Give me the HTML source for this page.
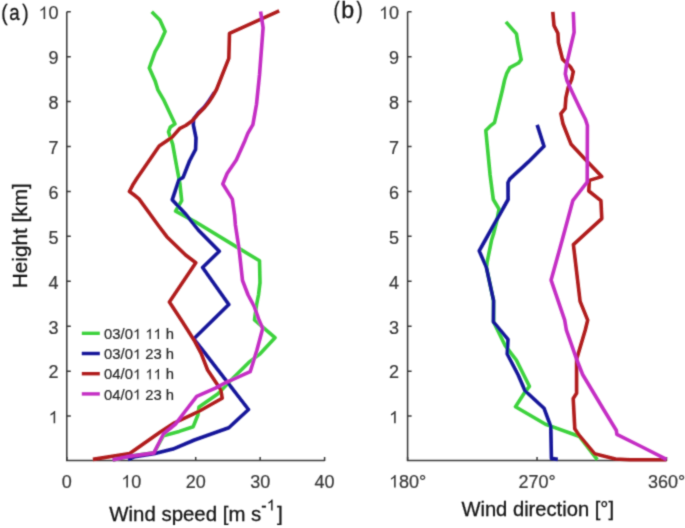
<!DOCTYPE html>
<html><head><meta charset="utf-8"><style>
html,body{margin:0;padding:0;background:#fff;}
body{width:685px;height:528px;overflow:hidden;}
svg{display:block;font-family:"Liberation Sans",sans-serif;}
#w{width:685px;height:528px;}
</style></head><body>
<div id="w"><svg width="685" height="528" viewBox="0 0 685 528">
<defs><filter id="bl" x="-5%" y="-5%" width="110%" height="110%"><feConvolveMatrix order="3" kernelMatrix="0.02768 0.11101 0.02768 0.11101 0.44521 0.11101 0.02768 0.11101 0.02768" divisor="1" edgeMode="none" preserveAlpha="false"/></filter></defs>
<g filter="url(#bl)">
<path d="M66.8 11.7 V460.6 H324.6" fill="none" stroke="#383838" stroke-width="1.5"/>
<path d="M407.6 11.7 V460.6 H666.5" fill="none" stroke="#383838" stroke-width="1.5"/>
<path d="M66.8 416.07 h4 M407.6 416.07 h4 M66.8 371.14 h4 M407.6 371.14 h4 M66.8 326.21 h4 M407.6 326.21 h4 M66.8 281.28 h4 M407.6 281.28 h4 M66.8 236.35 h4 M407.6 236.35 h4 M66.8 191.42 h4 M407.6 191.42 h4 M66.8 146.49 h4 M407.6 146.49 h4 M66.8 101.56 h4 M407.6 101.56 h4 M66.8 56.63 h4 M407.6 56.63 h4 M66.8 11.70 h4 M407.6 11.70 h4 M66.80 461.0 v-4 M131.25 461.0 v-4 M195.70 461.0 v-4 M260.15 461.0 v-4 M324.60 461.0 v-4 M407.60 461.0 v-4 M537.05 461.0 v-4 M666.50 461.0 v-4" fill="none" stroke="#383838" stroke-width="1.5"/>
<polyline points="151.7,11.7 159.9,19.9 165.1,31.5 159.3,44.4 155.1,51.7 149.3,68 155.1,80.9 158,90.2 163.4,99.3 175,123.9 170.2,127.3 168.5,131.9 172.7,144.4 176.4,165 179.9,183.6 181.7,200.6 175.6,211.2 195.3,221.8 239,248.4 259.5,260.8 260,282.7 258.5,295 256.6,304.5 254.5,320 265.1,329.1 275,337.7 259.4,354.4 248.8,362.4 232.9,378.3 217.7,394 199,406.9 197.9,415 193.2,426.7 179.2,431.4 164.4,435.4 163.4,435.6 153.9,452.9 131,456.1 113,460" fill="none" stroke="#3cd23c" stroke-width="3.6" stroke-linejoin="round" stroke-linecap="butt"/>
<polyline points="214.4,92.5 211.5,97 207.7,102.7 203.9,107.5 198.2,113.1 193.6,119 193.3,124.6 196,137.8 195.6,149.3 189.5,161 183.1,177.4 179,179.7 172.2,199.8 186,214.5 198.3,230 219.3,251.3 202.6,267.5 228.8,304.5 193.8,338.8 204,351.9 248.5,409.5 228.8,427.8 194.4,440 172.9,449.1 153.9,453.8 135,456.7 128,459.5" fill="none" stroke="#14149a" stroke-width="3.6" stroke-linejoin="round" stroke-linecap="butt"/>
<polyline points="279.2,10.9 229.5,33.3 228.8,58.4 222.2,75 216.5,89.5 212.2,97 208.4,102.7 204.6,107.5 198.9,113.1 192.3,120.7 185.7,125.5 180,128.3 171.7,137.6 159.2,145.9 137,178.3 132.6,185.3 129.4,191.5 133.6,194.5 139,198.9 158,225 166.8,236.7 185.6,255 195.8,262.7 169.4,301.9 182.2,321.5 194.1,340.2 201.1,353.4 207.6,370 220.8,389.8 222.2,398.2 199,411.3 173.4,423.4 160.3,432 129.7,453.5 92.9,459.4" fill="none" stroke="#b01c1e" stroke-width="3.6" stroke-linejoin="round" stroke-linecap="butt"/>
<polyline points="260.6,11.4 263.1,27.7 259.5,75 256.5,104.2 252.9,124.6 247.8,133.4 244.9,140.7 236.3,159.9 227.1,173.5 222.8,184 232.3,199.1 234.6,215 235.4,225 239,248.4 242.5,280.5 248.1,295 254.2,306.4 258.5,318.7 262.7,328.5 256.8,350.5 250.2,371.7 226.3,382.3 215.4,388.2 196.7,396.4 185,411.5 175.5,424.2 163.4,434.2 153.9,452.9 131,456.1 112.6,460" fill="none" stroke="#c42dc4" stroke-width="3.6" stroke-linejoin="round" stroke-linecap="butt"/>
<polyline points="505.9,21.9 511.2,27.9 516.5,33.9 517.9,43.2 521.2,59.7 518.5,63 509.9,67.7 506.6,73.7 504.6,80 502.4,90 494.5,122.7 490.1,126.2 485.8,130.5 490.1,175 493.3,199.5 499,209 497,220 493.5,234 491.6,240 487,262.7 486.5,267.5 493.5,300.7 493.6,321.9 505,345.3 516.3,360 529.4,386.3 525,392.1 515.5,406.7 545.5,424.2 577.5,435.8 579.6,436.6 597.3,459.6" fill="none" stroke="#3cd23c" stroke-width="3.6" stroke-linejoin="round" stroke-linecap="butt"/>
<polyline points="537.2,124.9 544,146.3 528.4,161.9 509.9,178.9 508,182.5 508.1,199.5 485.3,240 479.2,250.9 486.3,267.1 493.6,300.7 493.4,321.9 508,339.4 507.2,354 518.2,375 525,390.7 544,408.2 550.8,426.6 551.4,458.4 557.8,459.4" fill="none" stroke="#14149a" stroke-width="3.6" stroke-linejoin="round" stroke-linecap="butt"/>
<polyline points="552.8,11.9 554,25.6 557.9,33.2 558.4,42.6 562.5,59.1 570.5,67 573.3,71.6 571.6,79.5 568.2,87.5 565.9,97.7 565.1,108.5 560.9,113.6 562.9,123.5 571.1,144.3 585.6,159.7 601.7,176.6 589.3,180.4 588.8,191 600.9,200.7 601.8,218.6 573.4,244.6 580.1,301.4 587.7,320.1 585.2,330.2 576.6,359.2 576.6,393.3 573.2,398.4 574.8,428.8 578.8,434.9 594.5,453.7 615.5,459 630,459.8 666.5,459.8" fill="none" stroke="#b01c1e" stroke-width="3.6" stroke-linejoin="round" stroke-linecap="butt"/>
<polyline points="573.3,11.9 574.1,32.4 569.9,50 566.5,64.8 565.3,73.9 567,80.7 572.7,93.2 580.7,110 585.5,119.5 587.4,125.5 587.2,182 572.8,200.7 562.2,240 551.1,280.1 564.7,320.1 566.4,330.2 576.6,359.2 582.6,374.5 603.9,410 616.4,430.5 616.8,434.4 642.2,447 666.5,459.3" fill="none" stroke="#c42dc4" stroke-width="3.6" stroke-linejoin="round" stroke-linecap="butt"/>
<g stroke="#383838" stroke-width="0.22"><path d="M763 0H583V1102Q518 1043 412 983T223 894V1061Q373 1129 485 1226T645 1409H763Z" fill="#383838" transform="translate(48.49,423.37) scale(0.00879,-0.00879)"/><path d="M763 0H583V1102Q518 1043 412 983T223 894V1061Q373 1129 485 1226T645 1409H763Z" fill="#383838" transform="translate(388.99,423.37) scale(0.00879,-0.00879)"/><text x="48.49" y="378.44" font-size="18" fill="#383838"  xml:space="preserve">2</text><text x="388.99" y="378.44" font-size="18" fill="#383838"  xml:space="preserve">2</text><text x="48.49" y="333.51" font-size="18" fill="#383838"  xml:space="preserve">3</text><text x="388.99" y="333.51" font-size="18" fill="#383838"  xml:space="preserve">3</text><text x="48.49" y="288.58" font-size="18" fill="#383838"  xml:space="preserve">4</text><text x="388.99" y="288.58" font-size="18" fill="#383838"  xml:space="preserve">4</text><text x="48.49" y="243.65" font-size="18" fill="#383838"  xml:space="preserve">5</text><text x="388.99" y="243.65" font-size="18" fill="#383838"  xml:space="preserve">5</text><text x="48.49" y="198.72" font-size="18" fill="#383838"  xml:space="preserve">6</text><text x="388.99" y="198.72" font-size="18" fill="#383838"  xml:space="preserve">6</text><text x="48.49" y="153.79" font-size="18" fill="#383838"  xml:space="preserve">7</text><text x="388.99" y="153.79" font-size="18" fill="#383838"  xml:space="preserve">7</text><text x="48.49" y="108.86" font-size="18" fill="#383838"  xml:space="preserve">8</text><text x="388.99" y="108.86" font-size="18" fill="#383838"  xml:space="preserve">8</text><text x="48.49" y="63.93" font-size="18" fill="#383838"  xml:space="preserve">9</text><text x="388.99" y="63.93" font-size="18" fill="#383838"  xml:space="preserve">9</text><path d="M763 0H583V1102Q518 1043 412 983T223 894V1061Q373 1129 485 1226T645 1409H763Z" fill="#383838" transform="translate(38.48,19.00) scale(0.00879,-0.00879)"/><text x="48.49" y="19.00" font-size="18" fill="#383838"  xml:space="preserve">0</text><path d="M763 0H583V1102Q518 1043 412 983T223 894V1061Q373 1129 485 1226T645 1409H763Z" fill="#383838" transform="translate(378.98,19.00) scale(0.00879,-0.00879)"/><text x="388.99" y="19.00" font-size="18" fill="#383838"  xml:space="preserve">0</text><text x="61.79" y="487.50" font-size="18" fill="#383838"  xml:space="preserve">0</text><path d="M763 0H583V1102Q518 1043 412 983T223 894V1061Q373 1129 485 1226T645 1409H763Z" fill="#383838" transform="translate(121.24,487.50) scale(0.00879,-0.00879)"/><text x="131.25" y="487.50" font-size="18" fill="#383838"  xml:space="preserve">0</text><text x="185.69" y="487.50" font-size="18" fill="#383838"  xml:space="preserve">20</text><text x="250.14" y="487.50" font-size="18" fill="#383838"  xml:space="preserve">30</text><text x="314.59" y="487.50" font-size="18" fill="#383838"  xml:space="preserve">40</text><path d="M763 0H583V1102Q518 1043 412 983T223 894V1061Q373 1129 485 1226T645 1409H763Z" fill="#383838" transform="translate(388.98,487.50) scale(0.00879,-0.00879)"/><text x="399.00" y="487.50" font-size="18" fill="#383838"  xml:space="preserve">80°</text><text x="518.43" y="487.50" font-size="18" fill="#383838"  xml:space="preserve">270°</text><text x="647.88" y="487.50" font-size="18" fill="#383838"  xml:space="preserve">360°</text></g>
<g stroke="#141414" stroke-width="0.3">
<text x="109.3" y="520.7" font-size="21" fill="#141414" textLength="152" lengthAdjust="spacingAndGlyphs">Wind speed [m s</text>
<text x="261.30" y="510.60" font-size="16" fill="#141414" >-</text><path d="M763 0H583V1102Q518 1043 412 983T223 894V1061Q373 1129 485 1226T645 1409H763Z" fill="#141414" transform="translate(266.63,510.60) scale(0.00781,-0.00781)"/>
<text x="276.9" y="520.7" font-size="21" fill="#141414">]</text>
<text x="461.4" y="515.9" font-size="21" fill="#141414" textLength="152.6" lengthAdjust="spacingAndGlyphs">Wind direction [°]</text>
<text transform="translate(26.9,288.2) rotate(-90)" font-size="21" fill="#141414" textLength="104.9" lengthAdjust="spacingAndGlyphs">Height [km]</text>
</g>
<g fill="#141414" stroke="#141414" stroke-width="0.3" font-size="22.5"><text transform="translate(1.3,19.5) scale(0.85,1)">(</text><text transform="translate(9.3,20.3) scale(0.85,1)" font-size="22">a</text><text transform="translate(22.3,19.5) scale(0.85,1)">)</text></g>
<g fill="#141414" stroke="#141414" stroke-width="0.3" font-size="23.2"><text transform="translate(333.45,18.2) scale(0.8,1)">(</text><text x="341.3" y="18.4">b</text><text transform="translate(356.39,18.2) scale(0.8,1)">)</text></g>
<line x1="81.8" y1="333.3" x2="99.8" y2="333.3" stroke="#3cd23c" stroke-width="3.4"/>
<g stroke="#262626" stroke-width="0.2"><text x="104.10" y="338.90" font-size="14.8" fill="#262626" >03/0</text><path d="M763 0H583V1102Q518 1043 412 983T223 894V1061Q373 1129 485 1226T645 1409H763Z" fill="#262626" transform="translate(132.91,338.90) scale(0.00723,-0.00723)"/><text x="141.14" y="338.90" font-size="14.8" fill="#262626" > </text><path d="M763 0H583V1102Q518 1043 412 983T223 894V1061Q373 1129 485 1226T645 1409H763Z" fill="#262626" transform="translate(145.25,338.90) scale(0.00723,-0.00723)"/><path d="M763 0H583V1102Q518 1043 412 983T223 894V1061Q373 1129 485 1226T645 1409H763Z" fill="#262626" transform="translate(153.48,338.90) scale(0.00723,-0.00723)"/><text x="161.71" y="338.90" font-size="14.8" fill="#262626"  xml:space="preserve"> h</text></g>
<line x1="81.8" y1="353.5" x2="99.8" y2="353.5" stroke="#14149a" stroke-width="3.4"/>
<g stroke="#262626" stroke-width="0.2"><text x="104.10" y="359.10" font-size="14.8" fill="#262626" >03/0</text><path d="M763 0H583V1102Q518 1043 412 983T223 894V1061Q373 1129 485 1226T645 1409H763Z" fill="#262626" transform="translate(132.91,359.10) scale(0.00723,-0.00723)"/><text x="141.14" y="359.10" font-size="14.8" fill="#262626"  xml:space="preserve"> 23 h</text></g>
<line x1="81.8" y1="373.7" x2="99.8" y2="373.7" stroke="#b01c1e" stroke-width="3.4"/>
<g stroke="#262626" stroke-width="0.2"><text x="104.10" y="379.30" font-size="14.8" fill="#262626" >04/0</text><path d="M763 0H583V1102Q518 1043 412 983T223 894V1061Q373 1129 485 1226T645 1409H763Z" fill="#262626" transform="translate(132.91,379.30) scale(0.00723,-0.00723)"/><text x="141.14" y="379.30" font-size="14.8" fill="#262626" > </text><path d="M763 0H583V1102Q518 1043 412 983T223 894V1061Q373 1129 485 1226T645 1409H763Z" fill="#262626" transform="translate(145.25,379.30) scale(0.00723,-0.00723)"/><path d="M763 0H583V1102Q518 1043 412 983T223 894V1061Q373 1129 485 1226T645 1409H763Z" fill="#262626" transform="translate(153.48,379.30) scale(0.00723,-0.00723)"/><text x="161.71" y="379.30" font-size="14.8" fill="#262626"  xml:space="preserve"> h</text></g>
<line x1="81.8" y1="393.9" x2="99.8" y2="393.9" stroke="#c42dc4" stroke-width="3.4"/>
<g stroke="#262626" stroke-width="0.2"><text x="104.10" y="399.50" font-size="14.8" fill="#262626" >04/0</text><path d="M763 0H583V1102Q518 1043 412 983T223 894V1061Q373 1129 485 1226T645 1409H763Z" fill="#262626" transform="translate(132.91,399.50) scale(0.00723,-0.00723)"/><text x="141.14" y="399.50" font-size="14.8" fill="#262626"  xml:space="preserve"> 23 h</text></g>
</g>
</svg></div>
</body></html>
